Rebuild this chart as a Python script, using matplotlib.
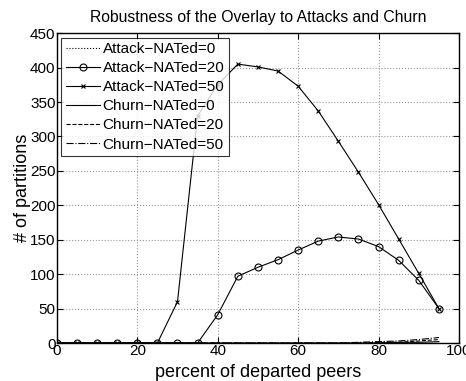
import numpy as np
import matplotlib
matplotlib.use("Agg")
import matplotlib.pyplot as plt

plt.rcParams['font.family'] = ['Liberation Sans', 'DejaVu Sans']

# percent of departed peers
departed = [0, 5, 10, 15, 20, 25, 30, 35, 40, 45, 50, 55, 60, 65, 70, 75, 80, 85, 90, 95]

attack_nat0 = [0] * 20
attack_nat20 = [0, 0, 0, 0, 0, 0, 0, 0, 41, 97, 110, 121, 135, 148, 154, 151, 140, 120, 91, 50]
attack_nat50 = [0, 0, 0, 0, 0, 0, 60, 330, 375, 405, 401, 395, 373, 337, 293, 248, 201, 151, 101, 50]
churn_nat0 = [0, 0, 0, 0, 0, 0, 0, 0, 0, 0, 0, 0, 0, 0, 0, 0, 0, 1, 1, 2]
churn_nat20 = [0, 0, 0, 0, 0, 0, 0, 0, 0, 0, 0, 0, 0, 0, 0, 0, 1, 1, 3, 5]
churn_nat50 = [0, 0, 0, 0, 0, 0, 0, 0, 0, 0, 0, 0, 0, 0, 0, 1, 2, 3, 5, 8]

fig = plt.figure(figsize=(4.66, 3.81), dpi=100)
ax = fig.add_axes([0.122, 0.0997, 0.863, 0.8133])

ax.plot(departed, attack_nat0, 'k:', lw=0.8, label='Attack\u2212NATed=0')
ax.plot(departed, attack_nat20, 'k-', lw=0.8, marker='o', ms=5, mfc='none', mew=0.8, label='Attack\u2212NATed=20')
ax.plot(departed, attack_nat50, 'k-', lw=0.8, marker='x', ms=3, mew=0.8, label='Attack\u2212NATed=50')
ax.plot(departed, churn_nat0, 'k-', lw=0.8, label='Churn\u2212NATed=0')
ax.plot(departed, churn_nat20, 'k--', lw=0.8, label='Churn\u2212NATed=20')
ax.plot(departed, churn_nat50, 'k-.', lw=0.8, label='Churn\u2212NATed=50')

ax.set_xlim(0, 100)
ax.set_ylim(0, 450)
ax.set_xticks(np.arange(0, 101, 20))
ax.set_yticks(np.arange(0, 451, 50))
ax.grid(True, linestyle=':', color='#999999', lw=0.8)
ax.tick_params(direction='in', top=True, right=True, labelsize=11, length=4, pad=1)
for s in ax.spines.values():
    s.set_linewidth(1.0)

ax.set_xlabel('percent of departed peers', fontsize=13, labelpad=4)
ax.set_ylabel('# of partitions', fontsize=13, labelpad=-1)
ax.set_title('Robustness of the Overlay to Attacks and Churn', fontsize=11.3, pad=8)

leg = ax.legend(loc='upper left', fontsize=11, frameon=True, fancybox=False,
                edgecolor='black', borderpad=0.3, labelspacing=0.33,
                handlelength=2.2, handletextpad=0.2, borderaxespad=0.3)
leg.get_frame().set_linewidth(0.8)

fig.savefig('out.png', dpi=100)
